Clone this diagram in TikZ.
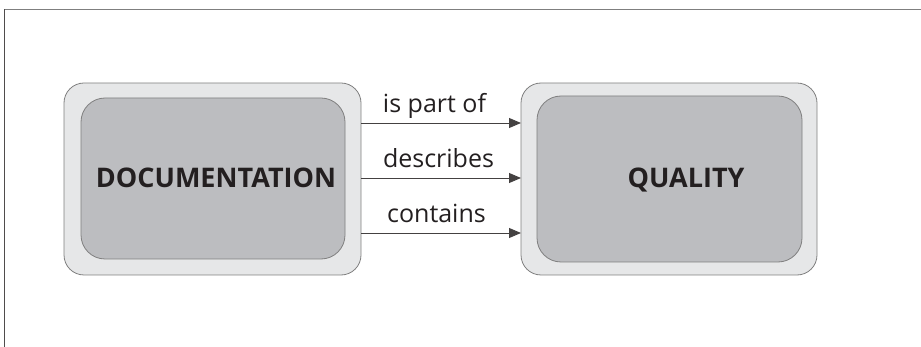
\documentclass[tikz,border=0pt]{standalone}
\usepackage{fontspec}
\setmainfont{Open Sans}
\usetikzlibrary{arrows.meta}
\definecolor{outerfill}{HTML}{E6E7E8}
\definecolor{innerfill}{HTML}{BCBDC0}
\definecolor{edgegray}{HTML}{7F7F7F}
\definecolor{textdark}{HTML}{231F20}
\begin{document}
\begin{tikzpicture}[x=1pt,y=-1pt,
  outerbox/.style={draw=edgegray,line width=0.8pt,fill=outerfill,rounded corners=20pt},
  innerbox/.style={draw=edgegray,line width=0.8pt,fill=innerfill,rounded corners=24pt},
  boxtitle/.style={font=\fontsize{27}{30}\selectfont\bfseries,text=textdark,inner sep=0pt,anchor=base},
  rel/.style={draw=textdark!85,line width=0.9pt,-{Triangle[length=12pt,width=10pt]}},
  rellabel/.style={font=\fontsize{25}{28}\selectfont,text=textdark,inner sep=0pt,anchor=base}]
\useasboundingbox (0,0) rectangle (921,347);
% page frame
\draw[edgegray,line width=1.5pt] (4,9.5) -- (921,9.5);
\draw[textdark!80,line width=0.8pt] (4,9.5) -- (4,347);
% documentation block
\draw[outerbox] (64,83) rectangle (361,275);
\draw[innerbox] (81,98) rectangle (345,259);
\node[boxtitle] (doc) at (216,188) {DOCUMENTATION};
% quality block
\draw[outerbox] (521,83) rectangle (817,275);
\draw[innerbox] (537,96) rectangle (802,262);
\node[boxtitle] (qual) at (686,188) {QUALITY};
% relation anchors
\coordinate (a1) at (361,123);
\coordinate (b1) at (521,123);
\coordinate (a2) at (361,178);
\coordinate (b2) at (521,178);
\coordinate (a3) at (361,233);
\coordinate (b3) at (521,233);
\draw[rel] (a1) -- (b1);
\draw[rel] (a2) -- (b2);
\draw[rel] (a3) -- (b3);
\node[rellabel] (l1) at (434.5,113) {is part of};
\node[rellabel] (l2) at (438.5,168) {describes};
\node[rellabel] (l3) at (436.5,223) {contains};
\end{tikzpicture}
\end{document}
